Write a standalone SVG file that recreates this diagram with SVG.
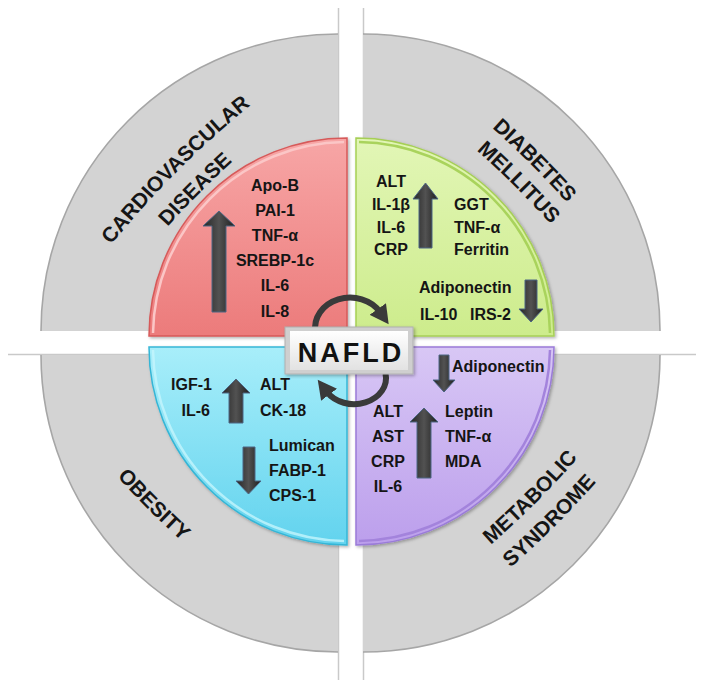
<svg xmlns="http://www.w3.org/2000/svg" width="704" height="689" viewBox="0 0 704 689">
<style>
.lbl{font-family:"Liberation Sans",Arial,sans-serif;font-weight:bold;font-size:16px;fill:#151515}
.big{font-family:"Liberation Sans",Arial,sans-serif;font-weight:bold;font-size:21px;fill:#151515}
.grey{fill:#d3d3d3}
.rim{fill:none;stroke:#a6a6a6;stroke-width:1.6}
.xline{stroke:#c9c9c9;stroke-width:1.5;fill:none}
.arr{fill:url(#gArr);stroke:#4d6684;stroke-width:1}
.cyc{fill:none;stroke:#3a3a3a;stroke-width:6;marker-end:url(#ah)}
.q{filter:url(#sh)}
</style>
<defs>
<linearGradient id="gArr" x1="0" y1="0" x2="1" y2="0">
<stop offset="0" stop-color="#262626"/><stop offset="0.5" stop-color="#525252"/><stop offset="1" stop-color="#1e1e1e"/>
</linearGradient>
<linearGradient id="gRed" x1="0" y1="0" x2="0" y2="1">
<stop offset="0" stop-color="#f7a6a6"/><stop offset="1" stop-color="#ec7b7b"/>
</linearGradient>
<linearGradient id="gGreen" x1="0" y1="0" x2="0" y2="1">
<stop offset="0" stop-color="#e2f6b6"/><stop offset="1" stop-color="#cdec8c"/>
</linearGradient>
<linearGradient id="gCyan" x1="0" y1="0" x2="0" y2="1">
<stop offset="0" stop-color="#a8eefa"/><stop offset="1" stop-color="#62d3ee"/>
</linearGradient>
<linearGradient id="gPurple" x1="0" y1="0" x2="0" y2="1">
<stop offset="0" stop-color="#d8c7f5"/><stop offset="1" stop-color="#bc9fec"/>
</linearGradient>
<linearGradient id="gBox" x1="0" y1="0" x2="0" y2="1">
<stop offset="0" stop-color="#ffffff"/><stop offset="1" stop-color="#e2e2e2"/>
</linearGradient>
<filter id="sh" x="-10%" y="-10%" width="120%" height="120%">
<feDropShadow dx="1.5" dy="1.5" stdDeviation="1.5" flood-color="#000" flood-opacity="0.3"/>
</filter>
<marker id="ah" markerUnits="userSpaceOnUse" markerWidth="20" markerHeight="20" viewBox="0 0 16 16" refX="3" refY="8" orient="auto">
<path d="M0,0 L15,8 L0,16 z" fill="#3a3a3a"/>
</marker>
<path id="pCVD1" d="M 79.7 285.9 Q 168.8 162.8 291.9 73.7"/>
<path id="pCVD2" d="M 101.7 307.9 Q 190.8 184.8 313.9 95.7"/>
<path id="pDM1" d="M 416.1 66.7 Q 539.2 155.8 628.3 278.9"/>
<path id="pDM2" d="M 400.1 88.7 Q 523.2 177.8 612.3 300.9"/>
<path id="pOB" d="M 51.1 395.2 Q 140.2 518.3 263.3 607.4"/>
<path id="pMS1" d="M 421.2 600.4 Q 544.3 511.3 633.4 388.2"/>
<path id="pMS2" d="M 440.2 623.9 Q 563.3 534.8 652.4 411.7"/>
</defs>

<rect width="704" height="689" fill="#ffffff"/>

<!-- cross lines -->
<g id="cross">
<line class="xline" x1="338.5" y1="8" x2="338.5" y2="680"/>
<line class="xline" x1="363.5" y1="8" x2="363.5" y2="680"/>
<line class="xline" x1="8" y1="354.5" x2="696" y2="354.5"/>
</g>

<!-- outer grey quadrants -->
<g id="cvd">
<path class="grey" d="M 338 331 L 41 331 A 297 297 0 0 1 338 34 Z"/>
<path class="rim" d="M 41 331 A 297 297 0 0 1 338 34"/>
<text class="big"><textPath href="#pCVD1" startOffset="50%" text-anchor="middle">CARDIOVASCULAR</textPath></text>
<text class="big"><textPath href="#pCVD2" startOffset="50%" text-anchor="middle">DISEASE</textPath></text>
</g>
<g id="dm">
<path class="grey" d="M 363 331 L 363 34 A 297 297 0 0 1 660 331 Z"/>
<path class="rim" d="M 363 34 A 297 297 0 0 1 660 331"/>
<text class="big"><textPath href="#pDM1" startOffset="50%" text-anchor="middle">DIABETES</textPath></text>
<text class="big"><textPath href="#pDM2" startOffset="50%" text-anchor="middle">MELLITUS</textPath></text>
</g>
<g id="obesity">
<path class="grey" d="M 338 355 L 338 652 A 297 297 0 0 1 41 355 Z"/>
<path class="rim" d="M 338 652 A 297 297 0 0 1 41 355"/>
<text class="big"><textPath href="#pOB" startOffset="50%" text-anchor="middle">OBESITY</textPath></text>
</g>
<g id="ms">
<path class="grey" d="M 363 355 L 660 355 A 297 297 0 0 1 363 652 Z"/>
<path class="rim" d="M 660 355 A 297 297 0 0 1 363 652"/>
<text class="big"><textPath href="#pMS1" startOffset="50%" text-anchor="middle">METABOLIC</textPath></text>
<text class="big"><textPath href="#pMS2" startOffset="50%" text-anchor="middle">SYNDROME</textPath></text>
</g>

<!-- red quadrant -->
<g id="q-cvd">
<path class="q" d="M 347 336 L 149 336 A 198 198 0 0 1 347 138 Z" fill="url(#gRed)" stroke="#d65a5a" stroke-width="1.5"/>
<path d="M 153 333 A 194 194 0 0 1 344 142" fill="none" stroke="#fbc6c6" stroke-width="2.5"/>
<polygon class="arr" points="212,312 226,312 226,226 235,226 219,211 203,226 212,226"/>
<g class="lbl" text-anchor="middle">
<text x="275" y="191">Apo-B</text>
<text x="275" y="216">PAI-1</text>
<text x="275" y="241">TNF-α</text>
<text x="275" y="266">SREBP-1c</text>
<text x="275" y="291">IL-6</text>
<text x="275" y="317">IL-8</text>
</g>
</g>

<!-- green quadrant -->
<g id="q-dm">
<path class="q" d="M 356 336 L 356 138 A 198 198 0 0 1 554 336 Z" fill="url(#gGreen)" stroke="#a6cf55" stroke-width="1.5"/>
<path d="M 359 142 A 194 194 0 0 1 550 333" fill="none" stroke="#a9d35c" stroke-width="2.5"/>
<polygon class="arr" points="419,248 432,248 432,199 438,199 425.5,183 413,199 419,199"/>
<polygon class="arr" points="525,280 537,280 537,309 543,309 531,322 519,309 525,309"/>
<g class="lbl" text-anchor="middle">
<text x="391" y="187">ALT</text>
<text x="391" y="210">IL-1β</text>
<text x="391" y="233">IL-6</text>
<text x="391" y="255">CRP</text>
</g>
<g class="lbl">
<text x="454" y="210">GGT</text>
<text x="454" y="233">TNF-α</text>
<text x="454" y="255">Ferritin</text>
<text x="419" y="293">Adiponectin</text>
<text x="420" y="320">IL-10</text>
<text x="470" y="320">IRS-2</text>
</g>
</g>

<!-- cyan quadrant -->
<g id="q-ob">
<path class="q" d="M 347 347 L 347 545 A 198 198 0 0 1 149 347 Z" fill="url(#gCyan)" stroke="#36b6d6" stroke-width="1.5"/>
<path d="M 344 541 A 194 194 0 0 1 153 350" fill="none" stroke="#c4f5fc" stroke-width="2.5" opacity="0.8"/>
<polygon class="arr" points="229,423 243,423 243,393 250,393 236,379 222,393 229,393"/>
<polygon class="arr" points="243,447 255,447 255,481 261,481 248.5,494 236,481 243,481"/>
<g class="lbl" text-anchor="end">
<text x="212" y="390">IGF-1</text>
<text x="210" y="416">IL-6</text>
</g>
<g class="lbl">
<text x="260" y="390">ALT</text>
<text x="260" y="416">CK-18</text>
<text x="269" y="451">Lumican</text>
<text x="269" y="476">FABP-1</text>
<text x="269" y="501">CPS-1</text>
</g>
</g>

<!-- purple quadrant -->
<g id="q-ms">
<path class="q" d="M 356 347 L 554 347 A 198 198 0 0 1 356 545 Z" fill="url(#gPurple)" stroke="#9a7bd8" stroke-width="1.5"/>
<path d="M 550 350 A 194 194 0 0 1 359 541" fill="none" stroke="#a383dc" stroke-width="2.5"/>
<polygon class="arr" points="439,355 449,355 449,380 455,380 444,392 433,380 439,380"/>
<polygon class="arr" points="417,478 431,478 431,422 438,422 424,408 410,422 417,422"/>
<text class="lbl" x="452" y="372">Adiponectin</text>
<g class="lbl" text-anchor="middle">
<text x="388" y="417">ALT</text>
<text x="388" y="442">AST</text>
<text x="388" y="467">CRP</text>
<text x="388" y="492">IL-6</text>
</g>
<g class="lbl">
<text x="445" y="417">Leptin</text>
<text x="445" y="442">TNF-α</text>
<text x="445" y="467">MDA</text>
</g>
</g>

<!-- connectors: cycle arrows -->
<g id="connectors">
<path class="cyc" d="M 315.5 332 A 35 30 0 0 1 380 312"/>
<path class="cyc" d="M 385.5 373.5 A 32 26 0 0 1 326.8 391.8"/>
</g>

<!-- NAFLD box -->
<g id="nafld">
<rect class="q" x="285" y="327" width="128" height="47" fill="#cfcfcf" stroke="#b0b0b0" stroke-width="1"/>
<rect x="290" y="331" width="118" height="39" fill="url(#gBox)"/>
<text x="351" y="362" text-anchor="middle" letter-spacing="3" style="font-family:'Liberation Sans',Arial,sans-serif;font-weight:bold;font-size:27px;fill:#111">NAFLD</text>
</g>
</svg>
